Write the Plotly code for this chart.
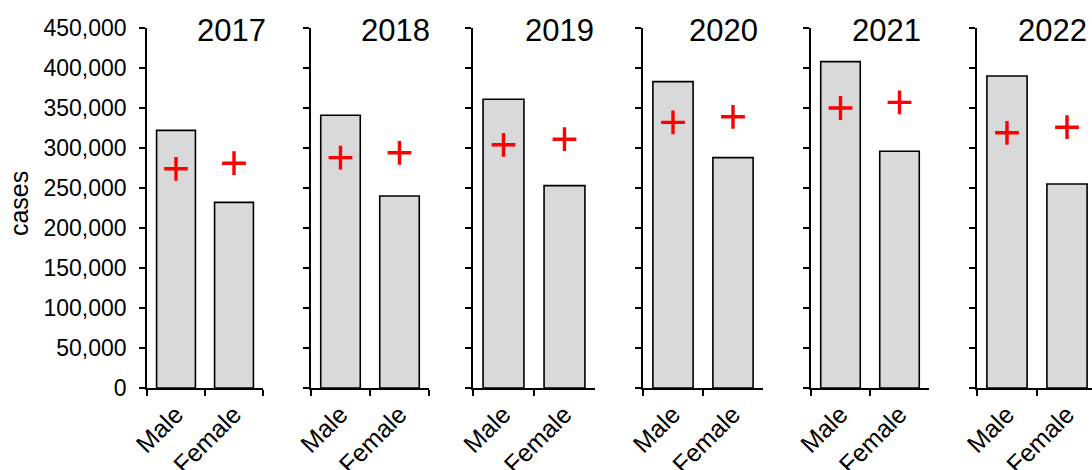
import plotly.graph_objects as go

# Reported cases by sex per year (bars) and comparison values (red crosses)
years = ["2017", "2018", "2019", "2020", "2021", "2022"]
sexes = ["Male", "Female"]
male_cases = [322000, 341000, 361000, 383000, 408000, 390000]
female_cases = [232000, 240000, 253000, 288000, 296000, 255000]
male_marker = [274000, 288000, 304000, 332000, 350000, 319000]
female_marker = [281000, 294000, 311000, 339000, 357000, 326000]

y_ticks = list(range(0, 450001, 50000))

W, H = 1092, 470
M_TOP, M_BOT = 28, 82

# Panel placement in pixels: left edge of each panel's axis and its width
panel_left = [147, 311, 473, 643, 811, 977]
panel_width = [116, 118, 122, 120, 118, 120]
title_right = [268, 432, 596, 760, 923, 1089]

FONT = "Liberation Sans, Arial, sans-serif"

fig = go.Figure()

for i, yr in enumerate(years):
    ax = "" if i == 0 else str(i + 1)
    xref, yref = "x" + ax, "y" + ax
    fig.add_trace(go.Bar(
        x=sexes, y=[male_cases[i], female_cases[i]],
        width=0.67,
        marker=dict(color="#d9d9d9", line=dict(color="black", width=1.6)),
        xaxis=xref, yaxis=yref, showlegend=False,
    ))
    fig.add_trace(go.Scatter(
        x=sexes, y=[male_marker[i], female_marker[i]],
        mode="markers",
        marker=dict(symbol="cross-thin", size=17, color="#ff0000",
                    line=dict(color="#ff0000", width=3.4)),
        xaxis=xref, yaxis=yref, showlegend=False,
    ))

    left = panel_left[i]
    right = left + panel_width[i]
    x_hi = 1.5
    if right > W:
        x_hi = 1.5 - (right - W) / (panel_width[i] / 2)
        right = W
    dom = [left / W, right / W]

    fig.layout["xaxis" + ax] = dict(
        domain=dom, anchor=yref, type="category",
        range=[-0.5, x_hi], automargin=False,
        showline=True, linecolor="black", linewidth=1.6,
        ticks="outside", ticklen=6, tickwidth=1.6, tickcolor="black",
        tickson="boundaries", tickangle=-45,
        tickfont=dict(family=FONT, size=25, color="black"),
        showgrid=False, zeroline=False, fixedrange=True,
    )
    fig.layout["yaxis" + ax] = dict(
        domain=[0, 1], anchor=xref, automargin=False,
        range=[0, 450000],
        tickvals=y_ticks, tickformat=",d",
        showticklabels=(i == 0),
        showline=True, linecolor="black", linewidth=1.6,
        ticks="outside", ticklen=6, tickwidth=1.6, tickcolor="black",
        ticklabelstandoff=8,
        tickfont=dict(family=FONT, size=23, color="black"),
        showgrid=False, zeroline=False, fixedrange=True,
    )

    fig.add_annotation(
        text=yr, xref="paper", yref="paper",
        x=title_right[i] / W, y=(H - M_BOT - 31) / (H - M_TOP - M_BOT),
        xanchor="right", yanchor="middle", showarrow=False,
        font=dict(family=FONT, size=31, color="black"),
    )

fig.add_annotation(
    text="cases", xref="paper", yref="paper",
    x=19 / W, y=0.511, textangle=-90,
    xanchor="center", yanchor="middle", showarrow=False,
    font=dict(family=FONT, size=25, color="black"),
)

fig.update_layout(
    width=W, height=H,
    margin=dict(l=0, r=0, t=M_TOP, b=M_BOT, autoexpand=False),
    plot_bgcolor="white", paper_bgcolor="white",
    bargap=0.33,
)

fig.write_html("out.html")
